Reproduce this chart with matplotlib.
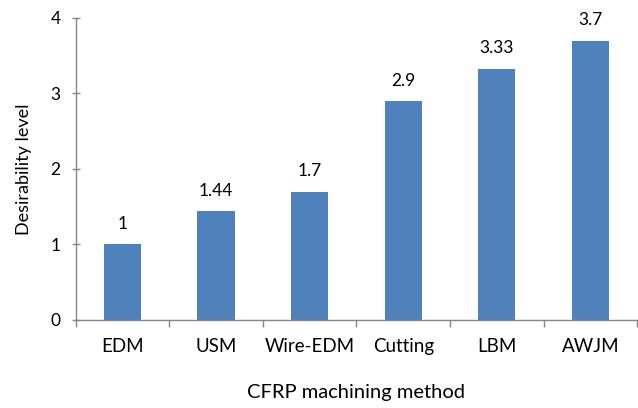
import matplotlib
matplotlib.use("Agg")
import matplotlib.pyplot as plt
import numpy as np

methods = ["EDM", "USM", "Wire-EDM", "Cutting", "LBM", "AWJM"]
desirability = [1, 1.44, 1.7, 2.9, 3.33, 3.7]
value_labels = ["1", "1.44", "1.7", "2.9", "3.33", "3.7"]

plt.rcParams["font.family"] = ["Lato", "DejaVu Sans"]

fig = plt.figure(figsize=(6.38, 4.08), dpi=100)
ax = fig.add_axes([0.119, 0.2157, 0.8795, 0.7403])

x = np.arange(len(methods))
bar_color = "#4F81BD"
axis_color = "#868686"

ax.bar(x, desirability, width=0.4, color=bar_color, zorder=2)

for xi, v, lab in zip(x, desirability, value_labels):
    ax.annotate(lab, (xi, v), xytext=(0, 9), textcoords="offset points",
                ha="center", va="bottom", fontsize=12.5, color="black")

ax.set_xlim(-0.5, len(methods) - 0.5)
ax.set_ylim(0, 4)
ax.set_yticks([0, 1, 2, 3, 4])

# category separators below the axis, small marks at the category centers
ax.set_xticks(np.arange(-0.5, len(methods) + 0.5, 1.0))
ax.set_xticklabels([])
ax.set_xticks(x, minor=True)
ax.set_xticklabels(methods, minor=True)
ax.tick_params(axis="x", which="major", direction="out", length=5,
               color=axis_color, width=1)
ax.tick_params(axis="x", which="minor", direction="in", length=5,
               color=axis_color, width=1, labelsize=13.5, pad=13)
ax.tick_params(axis="y", direction="inout", length=6, color=axis_color,
               width=1, labelsize=12.5, pad=8)

for side in ["top", "right"]:
    ax.spines[side].set_visible(False)
for side in ["left", "bottom"]:
    ax.spines[side].set_color(axis_color)
    ax.spines[side].set_linewidth(1)

ax.set_ylabel("Desirability level", fontsize=13, labelpad=13)
ax.set_xlabel("CFRP machining method", fontsize=14.5, labelpad=21)

fig.savefig("out.png", dpi=100)
